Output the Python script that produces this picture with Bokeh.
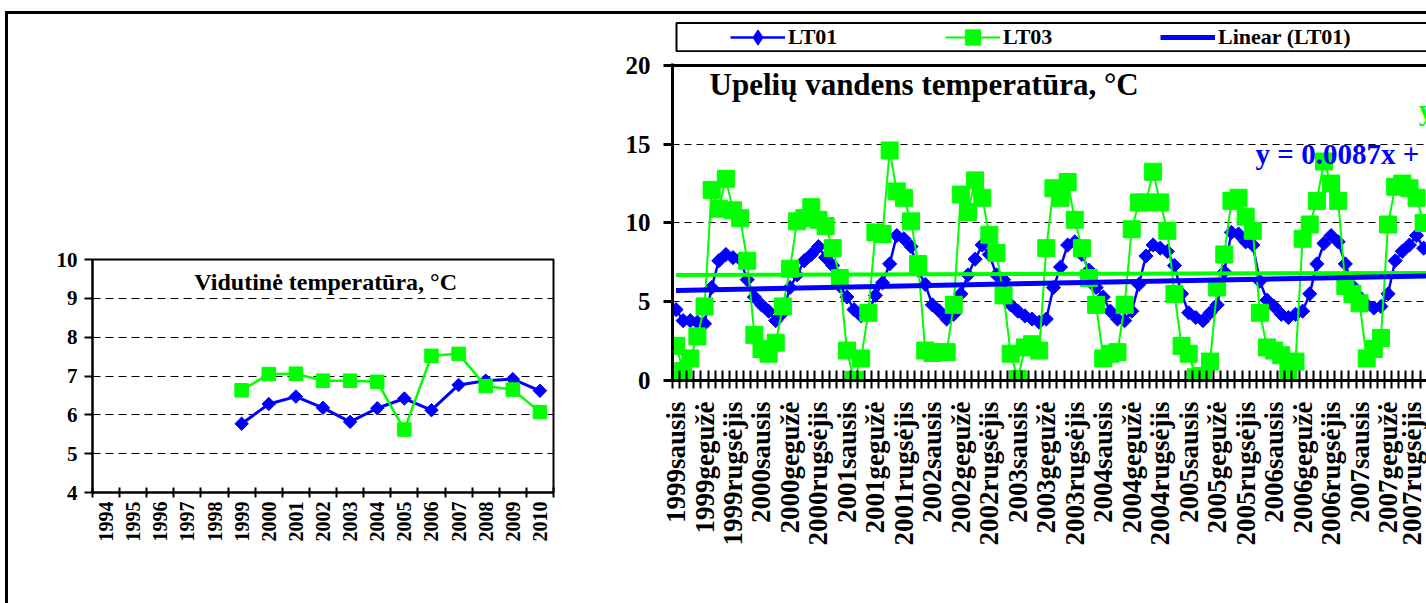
import math
from bokeh.plotting import figure
from bokeh.models import (FixedTicker, Range1d, Span, Label, Legend, LegendItem,
                          ColumnDataSource)
from bokeh.layouts import row, column
from bokeh.embed import file_html
from bokeh.resources import INLINE

FONT = "Liberation Serif"
BLUE = "#0000FF"
GREEN = "#00FF00"

# ---------------- left chart data (annual mean) ----------------
years = [str(y) for y in range(1994, 2011)]
avg_years = [str(y) for y in range(1999, 2011)]
lt01_avg = [5.77, 6.28, 6.47, 6.18, 5.82, 6.17, 6.42, 6.12, 6.77, 6.88, 6.92, 6.62]
lt03_avg = [6.63, 7.05, 7.06, 6.88, 6.88, 6.85, 5.62, 7.52, 7.57, 6.74, 6.65, 6.07]
left_yticks = [4, 5, 6, 7, 8, 9, 10]
left_title = "Vidutinė temperatūra, °C"

# ---------------- right chart data (monthly) ----------------
month_names = ["sausis", "vasaris", "kovas", "balandis", "gegužė", "birželis",
               "liepa", "rugpjūtis", "rugsėjis", "spalis", "lapkritis", "gruodis"]
start_year = 1999
lt01_1999 = [4.5, 3.8, 3.8, 3.7, 3.6, 5.9, 7.6, 8.0, 7.8, 7.7, 6.4, 5.3]
lt01_2000 = [4.8, 4.4, 3.8, 4.3, 5.9, 6.7, 7.6, 8.0, 8.5, 7.8, 7.3, 6.0]
lt01_2001 = [5.3, 4.5, 4.1, 4.3, 5.4, 6.2, 7.4, 9.2, 9.0, 8.5, 7.0, 6.1]
lt01_2002 = [4.8, 4.4, 3.9, 4.2, 5.5, 6.7, 7.7, 8.6, 8.0, 6.7, 6.4, 4.8]
lt01_2003 = [4.4, 4.1, 3.9, 3.7, 3.9, 5.9, 7.2, 8.6, 8.8, 8.0, 7.0, 5.9]
lt01_2004 = [5.3, 4.4, 3.9, 3.8, 4.4, 6.1, 7.9, 8.6, 8.4, 8.2, 7.3, 5.5]
lt01_2005 = [4.3, 4.0, 3.8, 4.3, 4.8, 6.9, 9.4, 9.3, 8.8, 8.6, 6.3, 5.1]
lt01_2006 = [4.7, 4.2, 4.0, 4.2, 4.4, 5.5, 7.4, 8.7, 9.2, 8.8, 7.4, 6.0]
lt01_2007 = [5.3, 4.8, 4.6, 4.7, 5.5, 7.6, 8.2, 8.6, 9.2, 8.4]

lt03_1999 = [2.2, 0.6, 1.4, 2.8, 4.7, 12.1, 10.9, 12.8, 10.8, 10.3, 7.6, 2.9]
lt03_2000 = [2.0, 1.7, 2.4, 4.7, 7.1, 10.1, 10.3, 11.0, 10.2, 9.8, 8.4, 6.5]
lt03_2001 = [1.9, 0.05, 1.4, 4.3, 9.4, 9.3, 14.6, 12.0, 11.6, 10.1, 7.4, 1.9]
lt03_2002 = [1.75, 1.8, 1.8, 4.8, 11.8, 10.7, 12.7, 11.6, 9.25, 8.1, 5.4, 1.7]
lt03_2003 = [0.1, 2.1, 2.3, 1.9, 8.4, 12.2, 11.6, 12.6, 10.2, 8.4, 6.5, 4.8]
lt03_2004 = [1.4, 1.7, 1.8, 4.8, 9.6, 11.3, 11.3, 13.25, 11.3, 9.5, 5.5, 2.2]
lt03_2005 = [1.7, 0.2, 0.3, 1.2, 5.9, 8.0, 11.4, 11.6, 10.4, 9.5, 4.3, 2.1]
lt03_2006 = [1.9, 1.6, 0.5, 1.2, 9.0, 9.9, 11.4, 13.9, 12.5, 11.4, 6.0, 5.5]
lt03_2007 = [4.9, 1.4, 2.0, 2.7, 9.9, 12.3, 12.5, 12.2, 11.6, 10.0]

# linear trend lines (Excel style, x = 1..n)
lt01_trend_slope, lt01_trend_intercept = 0.0087, 5.71
lt03_trend_slope, lt03_trend_intercept = 0.0013, 6.69
lt01_eq = "y = 0.0087x + 5.71"
lt03_eq = "y = 0.0013x + 6.69"
right_yticks = [0, 5, 10, 15, 20]
right_title = "Upelių vandens temperatūra, °C"
legend_labels = ["LT01", "LT03", "Linear (LT01)"]

lt01 = (lt01_1999 + lt01_2000 + lt01_2001 + lt01_2002 + lt01_2003 +
        lt01_2004 + lt01_2005 + lt01_2006 + lt01_2007)
lt03 = (lt03_1999 + lt03_2000 + lt03_2001 + lt03_2002 + lt03_2003 +
        lt03_2004 + lt03_2005 + lt03_2006 + lt03_2007)
n_months = len(lt01)
month_x = list(range(n_months))
month_labels = {i: f"{start_year + i // 12}{month_names[i % 12]}" for i in range(0, n_months, 4)}

# ======================= LEFT FIGURE =======================
left = figure(width=592, height=589, output_backend="svg", toolbar_location=None,
              x_range=Range1d(-0.5, len(years) - 0.5), y_range=Range1d(4, 10),
              min_border_left=84, min_border_right=47, min_border_top=245,
              min_border_bottom=111)
left.outline_line_color = "black"
left.outline_line_width = 2
left.background_fill_color = "white"
left.border_fill_color = "white"
left.xgrid.visible = False
left.ygrid.ticker = FixedTicker(ticks=[5, 6, 7, 8, 9])
left.ygrid.grid_line_color = "black"
left.ygrid.grid_line_dash = "8 5"
left.ygrid.grid_line_width = 1

left.yaxis.ticker = FixedTicker(ticks=left_yticks)
left.yaxis.axis_line_width = 2
left.yaxis.major_tick_in = 0
left.yaxis.major_tick_out = 8
left.yaxis.major_tick_line_width = 2
left.yaxis.minor_tick_line_color = None
left.yaxis.major_label_text_font = FONT
left.yaxis.major_label_text_font_style = "bold"
left.yaxis.major_label_text_font_size = "21px"
left.yaxis.major_label_text_color = "black"
left.yaxis.major_label_standoff = 7

left.xaxis.ticker = FixedTicker(ticks=list(range(len(years))),
                                minor_ticks=[i - 0.5 for i in range(len(years) + 1)])
left.xaxis.major_label_overrides = {i: y for i, y in enumerate(years)}
left.xaxis.major_label_orientation = math.pi / 2
left.xaxis.axis_line_width = 2
left.xaxis.major_tick_line_color = None
left.xaxis.major_tick_out = 5
left.xaxis.major_tick_in = 0
left.xaxis.minor_tick_in = 5
left.xaxis.minor_tick_out = 5
left.xaxis.minor_tick_line_width = 2
left.xaxis.minor_tick_line_color = "black"
left.xaxis.major_label_text_font = FONT
left.xaxis.major_label_text_font_style = "bold"
left.xaxis.major_label_text_font_size = "20px"
left.xaxis.major_label_text_color = "black"
left.xaxis.major_label_standoff = 4

ax = [years.index(y) for y in avg_years]
left.line(ax, lt01_avg, line_color=BLUE, line_width=3)
left.scatter(ax, lt01_avg, marker="square", angle=math.pi / 4, size=9.5,
             fill_color=BLUE, line_color=BLUE)
left.line(ax, lt03_avg, line_color=GREEN, line_width=2.5)
left.scatter(ax, lt03_avg, marker="square", size=13.5, fill_color=GREEN, line_color=GREEN)

left.add_layout(Label(x=8.1, y=9.43, text=left_title, text_align="center",
                      text_baseline="alphabetic", text_font=FONT,
                      text_font_style="bold", text_font_size="24px", text_color="black"))

# ======================= RIGHT LEGEND STRIP =======================
# frame of this strip is aligned with the chart frame below (starts at the y axis)
leg = figure(width=826, height=38, output_backend="svg", toolbar_location=None,
             x_range=Range1d(0, 754), y_range=Range1d(0, 38),
             min_border_left=72, min_border_right=0,
             min_border_top=0, min_border_bottom=0,
             x_axis_location=None, y_axis_location=None)
leg.outline_line_color = None
leg.grid.visible = False
leg.background_fill_color = "white"
leg.border_fill_color = "white"
leg.quad(left=[4], right=[900], bottom=[1.2], top=[29.5], fill_color="white",
         line_color="black", line_width=2)
dummy = ColumnDataSource(dict(x=[-1000, -999], y=[-1000, -1000]))
g1l = leg.line("x", "y", source=dummy, line_color=BLUE, line_width=2.5)
g1m = leg.scatter("x", "y", source=dummy, marker="diamond",
                  size=15, fill_color=BLUE, line_color=BLUE)
g2l = leg.line("x", "y", source=dummy, line_color=GREEN, line_width=2)
g2m = leg.scatter("x", "y", source=dummy, marker="square", size=17,
                  fill_color=GREEN, line_color=GREEN)
g3l = leg.line("x", "y", source=dummy, line_color=BLUE, line_width=5)
legend = Legend(items=[LegendItem(label=legend_labels[0], renderers=[g1l, g1m]),
                       LegendItem(label=legend_labels[1], renderers=[g2l, g2m]),
                       LegendItem(label=legend_labels[2], renderers=[g3l])],
                location=(58, -4), orientation="horizontal",
                glyph_width=55, glyph_height=38, label_height=38, label_width=157,
                label_standoff=3, spacing=0, padding=0, margin=0,
                border_line_color=None, background_fill_alpha=0,
                label_text_font=FONT, label_text_font_style="bold",
                label_text_font_size="22px", label_text_color="black")
leg.add_layout(legend)

# ======================= RIGHT FIGURE =======================
right = figure(width=826, height=551, output_backend="svg", toolbar_location=None,
               x_range=Range1d(-0.5, 105.4), y_range=Range1d(0, 20.12),
               min_border_left=72, min_border_right=0, min_border_top=11,
               min_border_bottom=223)
right.outline_line_color = None
right.background_fill_color = "white"
right.border_fill_color = "white"
right.xgrid.visible = False
right.ygrid.ticker = FixedTicker(ticks=[5, 10, 15])
right.ygrid.grid_line_color = "black"
right.ygrid.grid_line_dash = "7 5"
right.ygrid.grid_line_width = 1

right.yaxis.ticker = FixedTicker(ticks=right_yticks)
right.yaxis.axis_line_width = 3
right.yaxis.major_tick_in = 0
right.yaxis.major_tick_out = 9
right.yaxis.major_tick_line_width = 3
right.yaxis.minor_tick_line_color = None
right.yaxis.major_label_text_font = FONT
right.yaxis.major_label_text_font_style = "bold"
right.yaxis.major_label_text_font_size = "25px"
right.yaxis.major_label_text_color = "black"
right.yaxis.major_label_standoff = 13

right.xaxis.ticker = FixedTicker(ticks=list(month_labels.keys()),
                                 minor_ticks=[i - 0.5 for i in range(n_months + 1)])
right.xaxis.major_label_overrides = month_labels
right.xaxis.major_label_orientation = math.pi / 2
right.xaxis.axis_line_width = 3
right.xaxis.major_tick_line_color = None
right.xaxis.major_tick_out = 8
right.xaxis.major_tick_in = 0
right.xaxis.minor_tick_in = 10
right.xaxis.minor_tick_out = 8
right.xaxis.minor_tick_line_width = 2
right.xaxis.minor_tick_line_color = "black"
right.xaxis.major_label_text_font = FONT
right.xaxis.major_label_text_font_style = "bold"
right.xaxis.major_label_text_font_size = "27px"
right.xaxis.major_label_text_color = "black"
right.xaxis.major_label_standoff = 13

right.add_layout(Span(location=20, dimension="width", line_color="black", line_width=3))

right.line(month_x, lt01, line_color=BLUE, line_width=2.5)
right.scatter(month_x, lt01, marker="square", angle=math.pi / 4, size=10,
              fill_color=BLUE, line_color=BLUE)
right.line(month_x, lt03, line_color=GREEN, line_width=2)
right.scatter(month_x, lt03, marker="square", size=17, fill_color=GREEN, line_color=GREEN)

tx = [0, 105.4]
right.line(tx, [lt03_trend_slope * (x + 1) + lt03_trend_intercept for x in tx],
           line_color=GREEN, line_width=4)
right.line(tx, [lt01_trend_slope * (x + 1) + lt01_trend_intercept for x in tx],
           line_color=BLUE, line_width=5)

right.add_layout(Label(x=4.7, y=18.8, text=right_title, text_align="left",
                       text_baseline="alphabetic", text_font=FONT,
                       text_font_style="bold", text_font_size="31px", text_color="black"))
right.add_layout(Label(x=81.4, y=14.4, text=lt01_eq, text_align="left",
                       text_baseline="alphabetic", text_font=FONT,
                       text_font_style="bold", text_font_size="29px", text_color=BLUE))
right.add_layout(Label(x=104.3, y=17.2, text=lt03_eq, text_align="left",
                       text_baseline="alphabetic", text_font=FONT,
                       text_font_style="bold", text_font_size="29px", text_color=GREEN))

lay = row(left, column(leg, right, spacing=0), spacing=0, margin=(11, 0, 0, 5),
          styles={"border-top": "3px solid black", "border-left": "3px solid black"})

with open("out.html", "w") as f:
    f.write(file_html(lay, INLINE))
